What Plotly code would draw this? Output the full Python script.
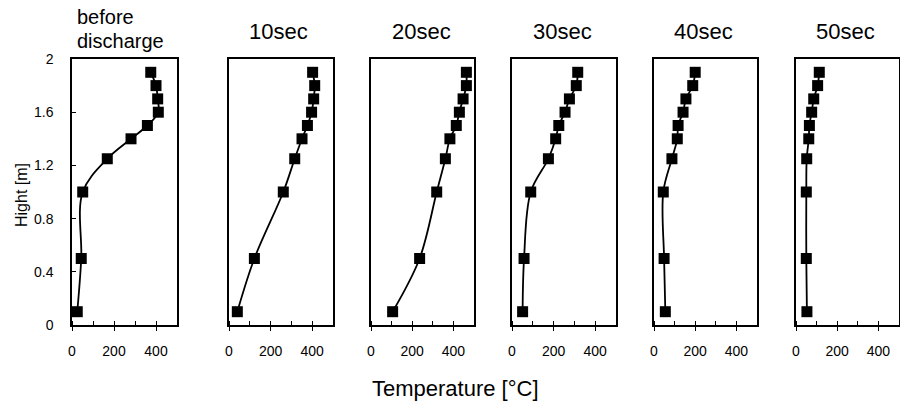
import plotly.graph_objects as go

# ---- data ----
heights = [0.1, 0.5, 1.0, 1.25, 1.4, 1.5, 1.6, 1.7, 1.8, 1.9]
temp_before = [25, 44, 51, 168, 281, 359, 411, 408, 400, 375]
temp_10s = [40, 122, 261, 316, 351, 377, 397, 407, 412, 402]
temp_20s = [105, 236, 319, 361, 383, 414, 429, 447, 463, 463]
temp_30s = [51, 58, 90, 175, 210, 225, 255, 276, 309, 316]
temp_40s = [55, 49, 45, 87, 113, 117, 141, 155, 188, 200]
temp_50s = [53, 50, 50, 52, 62, 65, 76, 86, 105, 113]
series = [temp_before, temp_10s, temp_20s, temp_30s, temp_40s, temp_50s]
panel_titles = ["before", "10sec", "20sec", "30sec", "40sec", "50sec"]
x_tick_vals = [0, 200, 400]
y_tick_vals = [0, 0.4, 0.8, 1.2, 1.6, 2]
x_title = "Temperature [°C]"
y_title = "Hight [m]"

W, H = 900, 407
FONT = "Liberation Sans, Arial, sans-serif"

# panel pixel extents (left, right)
panels_px = [(72, 177), (229, 333), (371, 474), (512, 616), (654, 757), (796, 899)]
title_left_px = [76, 248, 391, 532, 673, 815]
y_dom = [1 - 325 / H, 1 - 59 / H]

fig = go.Figure()
layout = dict(
    width=W, height=H,
    margin=dict(l=0, r=0, t=0, b=0, pad=0, autoexpand=False),
    paper_bgcolor="white", plot_bgcolor="white",
    showlegend=False,
    font=dict(family=FONT, color="black"),
)

for i, vals in enumerate(series):
    n = "" if i == 0 else str(i + 1)
    fig.add_trace(go.Scatter(
        x=vals, y=heights, mode="lines+markers",
        line=dict(color="black", width=1.8, shape="spline", smoothing=1),
        marker=dict(symbol="square", size=11, color="black"),
        xaxis="x" + n, yaxis="y" + n, cliponaxis=False,
    ))
    l, r = panels_px[i]
    layout["xaxis" + n] = dict(
        domain=[l / W, r / W], range=[0, 500], anchor="y" + n,
        showline=True, linecolor="black", linewidth=1.5, mirror=True,
        tickmode="array", tickvals=x_tick_vals,
        ticks="outside", ticklen=4, tickcolor="black", tickwidth=1,
        minor=dict(dtick=100, ticks="inside", ticklen=4, tickcolor="black", tickwidth=1),
        showgrid=False, zeroline=False, automargin=False,
        tickfont=dict(size=14, family=FONT, color="black"),
        ticklabelstandoff=8,
    )
    layout["yaxis" + n] = dict(
        domain=y_dom, range=[0, 2], anchor="x" + n,
        showline=True, linecolor="black", linewidth=1.5, mirror=True,
        tickmode="array", tickvals=y_tick_vals,
        ticks="inside" if i == 0 else "", ticklen=4, tickcolor="black",
        showticklabels=(i == 0),
        showgrid=False, zeroline=False, automargin=False,
        tickfont=dict(size=14, family=FONT, color="black"),
        ticklabelstandoff=14,
    )

annotations = []
for i, t in enumerate(panel_titles):
    yc = 17 if i == 0 else 31
    fs = 20 if i == 0 else 22
    annotations.append(dict(
        text=t, x=title_left_px[i] / W, y=1 - yc / H, xref="paper", yref="paper",
        xanchor="left", yanchor="middle", showarrow=False, borderpad=0,
        font=dict(size=fs, family=FONT, color="black"),
    ))
annotations.append(dict(
    text="discharge", x=title_left_px[0] / W, y=1 - 41 / H, xref="paper", yref="paper",
    xanchor="left", yanchor="middle", showarrow=False, borderpad=0,
    font=dict(size=20, family=FONT, color="black"),
))
annotations.append(dict(
    text=x_title, x=370 / W, y=1 - 388 / H, xref="paper", yref="paper",
    xanchor="left", yanchor="middle", showarrow=False,
    font=dict(size=22, family=FONT, color="black"),
))
annotations.append(dict(
    text=y_title, x=21 / W, y=1 - 195 / H, xref="paper", yref="paper",
    xanchor="center", yanchor="middle", showarrow=False, textangle=-90,
    font=dict(size=16, family=FONT, color="black"),
))
layout["annotations"] = annotations

fig.update_layout(**layout)
fig.write_html("out.html")
